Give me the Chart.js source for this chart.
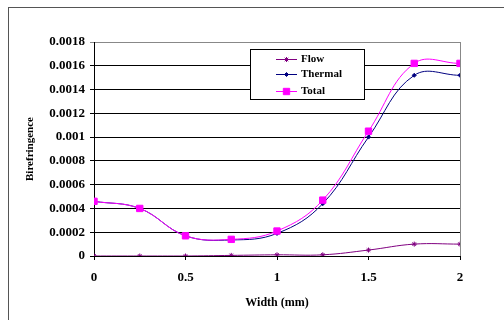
<!DOCTYPE html>
<html>
<head>
<meta charset="utf-8">
<script src="https://cdn.jsdelivr.net/npm/chart.js@4.4.1/dist/chart.umd.min.js"></script>
<style>
  html, body { margin: 0; padding: 0; background: #fff; }
  #wrap { position: relative; width: 504px; height: 320px; overflow: hidden; }
  #frame { position: absolute; left: 8px; top: 7px; width: 520px; height: 340px;
           border-left: 1px solid #555; border-top: 1px solid #555; }
  #myChart { position: absolute; left: 0; top: 0; }
</style>
</head>
<body>
<div id="wrap">
  <div id="frame"></div>
  <canvas id="myChart" width="504" height="320"></canvas>
</div>
<script>
const widths = [0, 0.25, 0.5, 0.75, 1, 1.25, 1.5, 1.75, 2];
const flow = [0, 0, 0, 0.000005, 0.00001, 0.00001, 0.00005, 0.0001, 0.0001];
const thermal = [0.00046, 0.0004, 0.00017, 0.000135, 0.00019, 0.00044, 0.001, 0.00152, 0.00152];
const total = [0.00046, 0.0004, 0.00017, 0.00014, 0.00021, 0.00047, 0.00105, 0.00162, 0.00162];
const yTicks = ["0", "0.0002", "0.0004", "0.0006", "0.0008", "0.001", "0.0012", "0.0014", "0.0016", "0.0018"];

const ctx = document.getElementById("myChart");
const serif = "'Liberation Serif', 'Times New Roman', serif";

function points(values) {
  return widths.map((w, i) => ({ x: w, y: values[i] }));
}

// legend box inside the plot + grey right edge, drawn like Excel does
const boxLegend = {
  id: "boxLegend",
  afterDraw(chart) {
    const c = chart.ctx;
    const a = chart.chartArea;
    c.save();
    c.strokeStyle = "#888";
    c.lineWidth = 1;
    c.beginPath();
    c.moveTo(Math.round(a.right) + 0.5, a.top);
    c.lineTo(Math.round(a.right) + 0.5, a.bottom);
    c.stroke();

    const x = 250, y = 49, w = 114, h = 50;
    c.fillStyle = "#fff";
    c.fillRect(x, y, w, h);
    c.strokeStyle = "#000";
    c.strokeRect(x + 0.5, y + 0.5, w, h);
    const rows = [59, 74, 91];
    chart.data.datasets.forEach((ds, i) => {
      const ry = rows[i] + 0.5;
      c.strokeStyle = ds.borderColor;
      c.lineWidth = 1;
      c.beginPath();
      c.moveTo(276, ry);
      c.lineTo(297, ry);
      c.stroke();
      c.fillStyle = ds.pointBackgroundColor;
      c.strokeStyle = ds.pointBorderColor;
      Chart.helpers.drawPoint(c, {
        pointStyle: ds.pointStyle,
        radius: ds.pointRadius,
        borderWidth: 1
      }, 286.5, ry);
      c.fillStyle = "#000";
      c.font = "bold 11px " + serif;
      c.textBaseline = "middle";
      c.fillText(ds.label, 301, ry);
    });
    c.restore();
  }
};

new Chart(ctx, {
  type: "line",
  data: {
    datasets: [
      {
        label: "Flow",
        data: points(flow),
        borderColor: "#800080",
        pointBackgroundColor: "#800080",
        pointBorderColor: "#800080",
        pointStyle: "star",
        pointRadius: 2.5,
        borderWidth: 1,
        tension: 0.4,
        order: 3
      },
      {
        label: "Thermal",
        data: points(thermal),
        borderColor: "#000080",
        pointBackgroundColor: "#000080",
        pointBorderColor: "#000080",
        pointStyle: "rectRot",
        pointRadius: 2,
        borderWidth: 1,
        tension: 0.4,
        order: 2
      },
      {
        label: "Total",
        data: points(total),
        borderColor: "#ff00ff",
        pointBackgroundColor: "#ff00ff",
        pointBorderColor: "#ff00ff",
        pointStyle: "rect",
        pointRadius: 4.5,
        borderWidth: 1,
        tension: 0.4,
        order: 1
      }
    ]
  },
  options: {
    responsive: false,
    animation: false,
    layout: { padding: { left: 0, right: 44, top: 42, bottom: 0 } },
    plugins: { legend: { display: false }, tooltip: { enabled: false } },
    scales: {
      x: {
        type: "linear",
        min: 0,
        max: 2,
        afterFit: (s) => { s.height = 64; },
        ticks: {
          stepSize: 0.5,
          color: "#000",
          padding: 10,
          font: { family: serif, size: 13, weight: "bold" },
          callback: (v) => String(v)
        },
        grid: { drawOnChartArea: false, color: "#000", tickLength: 4 },
        border: { color: "#000", width: 1 },
        title: {
          display: true,
          text: "Width (mm)",
          color: "#000",
          font: { family: serif, size: 12, weight: "bold" },
          padding: { top: 0, bottom: 10 }
        }
      },
      y: {
        min: 0,
        max: 0.0018,
        afterFit: (s) => { s.width = 94; },
        ticks: {
          stepSize: 0.0002,
          color: "#000",
          padding: 5,
          font: { family: serif, size: 13, weight: "bold" },
          callback: (v, i) => yTicks[i]
        },
        grid: {
          color: (c) => (c.index === yTicks.length - 1 ? "#888" : "#000"),
          tickLength: 4
        },
        border: { color: "#000", width: 1 },
        title: {
          display: true,
          text: "Birefringence",
          color: "#000",
          font: { family: serif, size: 11, weight: "bold" },
          padding: { top: 24, bottom: 0 }
        }
      }
    }
  },
  plugins: [boxLegend]
});
</script>
</body>
</html>
